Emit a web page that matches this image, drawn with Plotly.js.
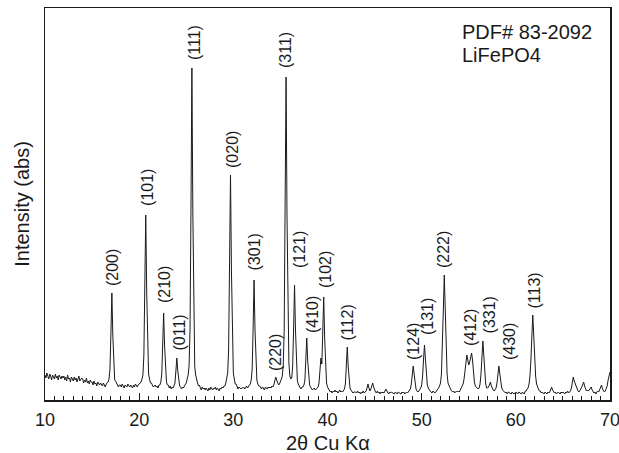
<!DOCTYPE html>
<html>
<head>
<meta charset="utf-8">
<script src="https://cdn.plot.ly/plotly-3.0.1.min.js"></script>
<style>html,body{margin:0;padding:0;background:#fff}#chart{width:619px;height:453px}</style>
</head>
<body>
<div id="chart"></div>
<script>
// 2θ sampling of the pattern (degrees)
const twoThetaStart = 10;
const twoThetaStep = 0.1;

// Intensity, one row per degree (x.0 ... x.9)
const intensity = [
  25,22,27,23,21,26,24,20,25,23,
  21,26,22,24,20,25,23,21,24,22,
  24,20,23,19,25,21,22,18,23,21,
  19,23,20,22,18,21,24,19,20,22,
  21,17,20,18,22,17,19,16,20,18,
  18,15,19,16,17,14,18,16,15,17,
  16,14,17,15,13,16,17,18,21,31,
  66,107,65,32,20,19,16,15,13,15,
  15,13,16,14,12,15,14,13,16,14,
  13,15,14,12,15,13,16,14,13,15,
  16,16,18,21,25,45,108,185,108,44,
  26,21,17,17,15,13,14,15,13,14,
  12,15,15,18,26,54,87,54,25,18,
  15,15,12,14,11,13,12,14,17,29,
  42,29,17,14,13,11,13,12,14,15,
  17,21,25,34,70,188,332,188,70,34,
  25,19,17,14,15,12,10,13,11,12,
  10,12,11,9,12,10,13,11,10,12,
  11,13,10,12,11,9,12,11,13,12,
  14,14,17,21,27,50,129,225,129,50,
  27,21,16,16,14,11,13,12,11,12,
  12,13,11,12,14,12,13,15,16,20,
  31,71,120,71,31,20,16,14,14,12,
  11,13,12,10,13,12,11,13,12,13,
  12,14,13,15,19,23,20,17,15,16,
  18,21,24,35,69,184,323,184,69,37,
  24,21,22,34,71,115,70,31,19,16,
  13,12,11,13,13,15,20,39,62,39,
  20,15,13,12,10,11,12,10,11,12,
  13,17,28,42,36,63,103,61,27,17,
  13,11,10,8,9,7,9,8,10,8,
  9,7,8,10,8,9,8,10,11,16,
  33,53,33,16,11,10,9,7,8,8,
  8,7,9,7,8,6,8,7,9,7,
  8,9,12,16,12,9,11,14,17,13,
  10,8,7,9,7,8,6,8,7,8,
  7,9,11,9,7,6,8,7,8,7,
  7,6,8,7,6,8,7,7,6,8,
  7,8,6,7,8,7,8,9,11,16,
  26,34,26,16,11,9,8,9,10,12,
  15,24,41,55,41,24,15,12,10,9,
  8,7,9,8,7,8,9,10,12,14,
  17,26,49,90,125,90,49,26,17,14,
  12,10,9,8,9,7,8,9,8,9,
  8,10,11,13,16,21,30,40,45,40,
  35,38,44,47,40,27,18,14,13,12,
  11,12,16,26,44,59,44,26,16,12,
  12,13,15,18,14,11,10,9,10,12,
  17,26,34,26,17,12,10,9,8,7,
  8,6,8,7,7,6,8,7,6,7,
  8,7,6,8,7,7,6,8,7,6,
  9,9,11,12,16,24,40,65,85,65,
  40,24,16,12,11,9,9,7,8,7,
  6,8,7,6,8,7,8,10,13,10,
  8,7,8,6,7,8,7,6,8,7,
  8,7,6,8,7,9,7,8,9,12,
  17,23,19,16,14,11,9,8,9,11,
  13,16,18,14,11,9,10,9,10,11,
  13,10,8,7,8,6,8,9,8,11,
  13,15,11,9,8,9,11,14,20,26,
  28
];

// x-axis tick labels
const xTickValues = [10, 20, 30, 40, 50, 60, 70];
const xTickLabels = ['10', '20', '30', '40', '50', '60', '70'];

// Miller-index labels and where their lower ends sit
const peakLabels = ['(200)','(101)','(210)','(011)','(111)','(020)','(301)','(220)','(311)','(121)',
                    '(410)','(102)','(112)','(124)','(131)','(222)','(412)','(331)','(430)','(113)'];
const labelTwoTheta = [17.17,20.88,22.69,24.28,25.88,29.91,32.30,34.48,35.49,37.03,
                       38.41,39.79,42.12,49.13,50.62,52.32,55.18,57.25,59.33,61.98];
const labelIntensity = [112,192,95,48,338,230,128,27,330,130,
                        65,110,58,38,63,130,52,65,38,90];

const cardLines = ['PDF# 83-2092', 'LiFePO4'];
const xTitle = '2θ Cu Kα';
const yTitle = 'Intensity (abs)';

const FONT = 'Liberation Sans, Arial, Helvetica, sans-serif';
const INK = '#1a1a1a';

const trace = {
  type: 'scatter',
  mode: 'lines',
  x0: twoThetaStart,
  dx: twoThetaStep,
  y: intensity,
  line: {color: INK, width: 1},
  hoverinfo: 'skip'
};

const annotations = peakLabels.map((t, i) => ({
  text: t, x: labelTwoTheta[i], y: labelIntensity[i], xref: 'x', yref: 'y',
  showarrow: false, textangle: -90, xanchor: 'center', yanchor: 'bottom',
  font: {family: FONT, size: 16, color: INK}
}));
const cardY = [0.939, 0.881];
cardLines.forEach((t, i) => annotations.push({
  text: t, x: 0.735, y: cardY[i], xref: 'paper', yref: 'paper',
  showarrow: false, xanchor: 'left', yanchor: 'middle',
  font: {family: FONT, size: 20, color: INK}
}));
// x-axis title, placed as paper text so it can sit as low as in the original
annotations.push({
  text: xTitle, x: 0.5, y: -0.110, xref: 'paper', yref: 'paper',
  showarrow: false, xanchor: 'center', yanchor: 'middle',
  font: {family: FONT, size: 20, color: INK}
});

const layout = {
  width: 619, height: 453,
  margin: {l: 45, r: 9, t: 8, b: 53},
  paper_bgcolor: '#fff', plot_bgcolor: '#fff',
  showlegend: false,
  font: {family: FONT, color: INK},
  xaxis: {
    range: [10, 70],
    tickmode: 'array', tickvals: xTickValues, ticktext: xTickLabels,
    ticklabeloverflow: 'allow', ticklabelstandoff: 3,
    ticks: 'inside', ticklen: 7, tickwidth: 1, tickcolor: INK,
    minor: {dtick: 1, tick0: 10, ticks: 'inside', ticklen: 4, tickwidth: 1, tickcolor: INK, showgrid: false},
    showline: true, mirror: true, linecolor: INK, linewidth: 1.5,
    showgrid: false, zeroline: false,
    tickfont: {family: FONT, size: 18, color: INK}
  },
  yaxis: {
    range: [0, 392],
    ticks: '', showticklabels: false,
    showline: true, mirror: true, linecolor: INK, linewidth: 1.5,
    showgrid: false, zeroline: false,
    title: {text: yTitle, font: {family: FONT, size: 20, color: INK}, standoff: 8}
  },
  annotations: annotations
};

Plotly.newPlot('chart', [trace], layout, {displayModeBar: false, staticPlot: true});
</script>
</body>
</html>
